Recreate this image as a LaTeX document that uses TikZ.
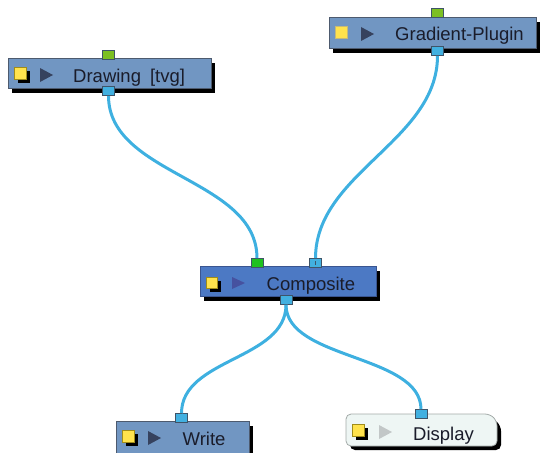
\documentclass[tikz,border=0pt]{standalone}
\usepackage{fontspec}
\setmainfont{Liberation Sans}
\usetikzlibrary{shadows}
\definecolor{boxfill}{HTML}{7196C2}
\definecolor{boxline}{HTML}{4D5A6E}
\definecolor{compfill}{HTML}{4C79C4}
\definecolor{compline}{HTML}{3A5590}
\definecolor{dispfill}{HTML}{EEF6F4}
\definecolor{displine}{HTML}{A3AAA8}
\definecolor{trid}{HTML}{36425E}
\definecolor{tric}{HTML}{4652A0}
\definecolor{tril}{HTML}{C2C7C7}
\definecolor{yel}{HTML}{FFE34D}
\definecolor{yelline}{HTML}{A08C1A}
\definecolor{gport}{HTML}{7CC022}
\definecolor{gportc}{HTML}{1EC21E}
\definecolor{bport}{HTML}{42B0E0}
\definecolor{portline}{HTML}{3E5468}
\definecolor{wire}{HTML}{3EB0E0}
\definecolor{txt}{HTML}{1A1C2A}
\tikzset{
  nodebox/.style={draw=boxline, fill=boxfill, line width=0.8pt, anchor=north west, inner sep=0pt,
    drop shadow={shadow xshift=4pt, shadow yshift=-5pt, opacity=1, fill=black}},
  lbl/.style={font=\fontsize{18.5}{21}\selectfont, text=txt, inner sep=0pt, anchor=base west},
  ysq/.style={draw=yelline, fill=yel, line width=0.6pt, minimum size=12pt, inner sep=0pt, anchor=north west,
    drop shadow={shadow xshift=4pt, shadow yshift=-4pt, opacity=1, fill=black}},
  ysqplain/.style={draw=yelline!60, fill=yel, line width=0.6pt, minimum size=12pt, inner sep=0pt, anchor=north west},
  port/.style={draw=portline, line width=0.6pt, minimum width=12pt, minimum height=9pt, inner sep=0pt},
  wirepath/.style={draw=wire, line width=3pt},
}
\begin{document}
\begin{tikzpicture}[x=1pt,y=-1pt]
\useasboundingbox (0,0) rectangle (545,452);
\clip (0,0) rectangle (545,452);

% ---- boxes ----
\node[nodebox, minimum width=203pt, minimum height=30pt] (drawing) at (8,58) {};
\node[nodebox, minimum width=207pt, minimum height=31pt] (gradient) at (329,17) {};
\node[nodebox, fill=compfill, draw=compline, minimum width=176pt, minimum height=30pt] (composite) at (200,266) {};
\node[nodebox, minimum width=133pt, minimum height=34pt] (write) at (116,421) {};
\node[anchor=north west, minimum width=151pt, minimum height=32pt, inner sep=0pt] (display) at (346,414) {};
\fill[black, rounded corners=5pt] (350,419) -- (350,450) -- (501,450) -- (501,426) -- (494,419) -- cycle;
\draw[fill=dispfill, draw=displine, line width=0.8pt, rounded corners=5pt]
  (346,446) -- (346,414) -- (490,414) -- (497,421) -- (497,446) -- cycle;

% ---- yellow squares ----
\node[ysq] (drawingY) at (14,67) {};
\node[ysqplain] (gradientY) at (335,26) {};
\node[ysq, minimum size=11pt] (compositeY) at (206,277) {};
\node[ysq] (writeY) at (122,430) {};
\node[ysq] (displayY) at (352,424) {};

% ---- triangles ----
\fill[trid] (40,68) -- ++(13,7) -- ++(-13,7) -- cycle;
\fill[trid] (361,27) -- ++(13,7) -- ++(-13,7) -- cycle;
\fill[tric] (232,277) -- ++(13,6) -- ++(-13,6) -- cycle;
\fill[trid] (148,431) -- ++(13,7) -- ++(-13,7) -- cycle;
\fill[tril] (379,425) -- ++(13,7) -- ++(-13,7) -- cycle;

% ---- labels ----
\node[lbl] (drawingT) at (73,82) {Drawing\hspace{9pt}[tvg]};
\node[lbl] (gradientT) at (395,41) {Gradient-Plugin};
\node[lbl] (compositeT) at (266.5,290) {Composite};
\node[lbl] (writeT) at (182.5,445) {Write};
\node[lbl] (displayT) at (413,440) {Display};

% ---- ports ----
\node[port, fill=gport] (drawingIn) at (108.5,54.5) {};
\node[port, fill=bport] (drawingOut) at (108.5,91) {};
\node[port, fill=gport] (gradientIn) at (437.5,13) {};
\node[port, fill=bport] (gradientOut) at (437.5,51) {};
\node[port, fill=gportc] (compositeInA) at (257,263) {};
\node[port, fill=bport] (compositeInB) at (315.5,263) {};
\fill[portline] (314.7,261.3) rectangle (316.3,264.7);
\node[port, fill=bport] (compositeOut) at (286,300) {};
\node[port, fill=bport] (writeIn) at (181.5,418) {};
\node[port, fill=bport] (displayIn) at (421,414) {};

% ---- wires ----
\draw[wirepath] (drawingOut.south) .. controls +(0,80) and +(0,-80) .. (compositeInA.north);
\draw[wirepath] (gradientOut.south) .. controls +(0,85) and +(0,-85) .. (compositeInB.north);
\draw[wirepath] (compositeOut.south) .. controls +(0,55) and +(0,-55) .. (writeIn.north);
\draw[wirepath] (compositeOut.south) .. controls +(0,55) and +(0,-55) .. (displayIn.north);
\end{tikzpicture}
\end{document}
